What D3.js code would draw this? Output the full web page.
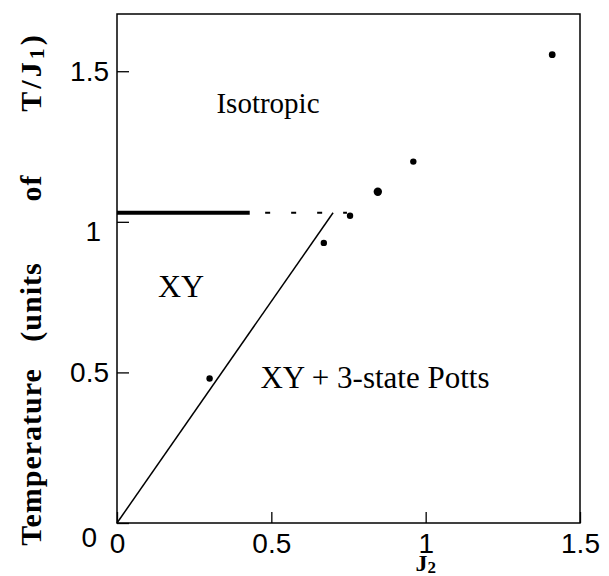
<!DOCTYPE html>
<html>
<head>
  <title>Phase diagram</title>
  <script src="https://d3js.org/d3.v7.min.js"></script>
  <style>
    body { margin: 0; background: white; }
    .tick-label { font-family: 'Liberation Sans', Arial, sans-serif; font-size: 28px; }
    .serif { font-family: 'Liberation Serif', 'Times New Roman', serif; }
  </style>
</head>
<body>
<div id="chart"></div>
<script>
// tick values
const xTicks = [0, 0.5, 1, 1.5];
const yTicks = [0, 0.5, 1, 1.5];

// simulation points (J2, T)
const pointJ2 = [0.30, 0.67, 0.755, 0.845, 0.96, 1.41];
const pointT = [0.48, 0.93, 1.02, 1.10, 1.20, 1.555];
const pointR = [3.2, 3.2, 3.2, 4.2, 3.2, 3.4];

// XY / XY+Potts boundary
const boundaryJ2 = [0, 0.70];
const boundaryT = [0, 1.03];

// Isotropic / XY boundary: solid part then dashed part
const solidJ2 = [0, 0.43];
const dashJ2 = [0.48, 0.745];
const kosterlitzT = 1.03;

// y title words and where their centres sit along the axis
const yTitleWords = ["Temperature", "(units", "of", "T/J"];
const yTitlePos = [457, 302, 188, 72];

const width = 609, height = 576;
const margin = { top: 14, right: 29, bottom: 53, left: 117 };

const svg = d3.select("#chart")
  .append("svg")
  .attr("width", width)
  .attr("height", height);

const xScale = d3.scaleLinear()
  .domain([0, 1.5])
  .range([margin.left, width - margin.right]);

const yScale = d3.scaleLinear()
  .domain([0, 1.69])
  .range([height - margin.bottom, margin.top]);

// frame
svg.append("rect")
  .attr("x", margin.left)
  .attr("y", margin.top)
  .attr("width", width - margin.left - margin.right)
  .attr("height", height - margin.top - margin.bottom)
  .attr("fill", "none")
  .attr("stroke", "black")
  .attr("stroke-width", 1.5);

// x axis: inward ticks
const xAxis = svg.append("g")
  .attr("transform", `translate(0, ${height - margin.bottom})`)
  .call(d3.axisTop(xScale).tickValues(xTicks).tickSize(11).tickFormat(d3.format("")));
xAxis.select(".domain").remove();
xAxis.selectAll("line").attr("stroke-width", 1.3);
xAxis.selectAll("text")
  .attr("class", "tick-label")
  .attr("y", 20)
  .attr("dy", "0.35em")
  .attr("fill", "black");

// y axis: inward ticks
const yAxis = svg.append("g")
  .attr("transform", `translate(${margin.left}, 0)`)
  .call(d3.axisRight(yScale).tickValues(yTicks).tickSize(12).tickFormat(d3.format("")));
yAxis.select(".domain").remove();
yAxis.selectAll("line").attr("stroke-width", 1.3);
yAxis.selectAll("text")
  .attr("class", "tick-label")
  .attr("x", -8)
  .attr("text-anchor", "end")
  .attr("fill", "black");
yAxis.selectAll(".tick").filter(d => d === 0).select("text").attr("x", -20).attr("dy", "0.85em");
yAxis.selectAll(".tick").filter(d => d === 1).select("text").attr("x", -16).attr("dy", "0.65em");

const line = d3.line().x(d => xScale(d[0])).y(d => yScale(d[1]));

// phase boundaries
svg.append("path")
  .datum(boundaryJ2.map((v, i) => [v, boundaryT[i]]))
  .attr("d", line)
  .attr("fill", "none")
  .attr("stroke", "black")
  .attr("stroke-width", 1.5);

svg.append("path")
  .datum(solidJ2.map(v => [v, kosterlitzT]))
  .attr("d", line)
  .attr("fill", "none")
  .attr("stroke", "black")
  .attr("stroke-width", 4);

svg.append("path")
  .datum(dashJ2.map(v => [v, kosterlitzT]))
  .attr("d", line)
  .attr("fill", "none")
  .attr("stroke", "black")
  .attr("stroke-width", 2)
  .attr("stroke-dasharray", "5,21");

// points
svg.selectAll(".pt")
  .data(pointJ2.map((v, i) => ({ x: v, y: pointT[i], r: pointR[i] })))
  .enter()
  .append("circle")
  .attr("class", "pt")
  .attr("cx", d => xScale(d.x))
  .attr("cy", d => yScale(d.y))
  .attr("r", d => d.r)
  .attr("fill", "black");

// region labels
svg.append("text").attr("class", "serif")
  .attr("x", 268).attr("y", 113)
  .attr("text-anchor", "middle")
  .style("font-size", "29px")
  .text("Isotropic");

svg.append("text").attr("class", "serif")
  .attr("x", 181).attr("y", 297)
  .attr("text-anchor", "middle")
  .style("font-size", "32px")
  .text("XY");

svg.append("text").attr("class", "serif")
  .attr("x", 375).attr("y", 388)
  .attr("text-anchor", "middle")
  .style("font-size", "31px")
  .text("XY + 3-state Potts");

// axis titles
const xt = svg.append("text").attr("class", "serif")
  .attr("x", xScale(1)).attr("y", 571)
  .attr("text-anchor", "middle")
  .style("font-size", "24px")
  .style("font-weight", "bold");
xt.append("tspan").text("J");
xt.append("tspan").attr("dy", 2).style("font-size", "17px").text("2");

yTitleWords.forEach((w, i) => {
  const t = svg.append("text").attr("class", "serif")
    .attr("transform", `translate(41, ${yTitlePos[i]}) rotate(-90)`)
    .attr("text-anchor", "middle")
    .style("font-size", "30px")
    .style("font-weight", "bold")
    .style("letter-spacing", "1px");
  if (w === "T/J") {
    t.style("letter-spacing", "3px");
    t.append("tspan").text(w);
    t.append("tspan").attr("dy", 3).style("font-size", "22px").text("1");
    t.append("tspan").attr("dy", -3).text(")");
  } else {
    t.text(w);
  }
});
</script>
</body>
</html>
